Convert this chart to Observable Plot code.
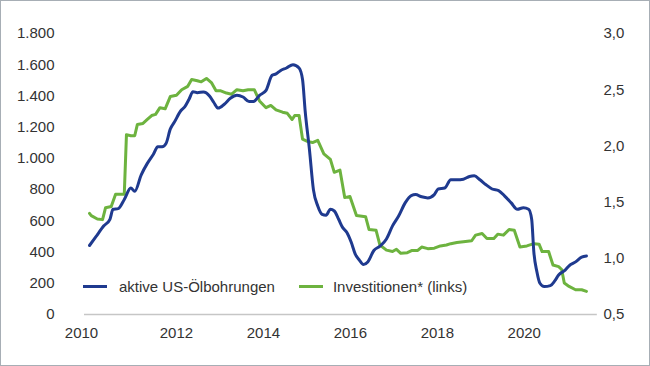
<!DOCTYPE html>
<html>
<head>
<meta charset="utf-8">
<script src="https://cdn.jsdelivr.net/npm/d3@7"></script>
<script src="https://cdn.jsdelivr.net/npm/@observablehq/plot@0.6"></script>
<style>
  html, body { margin: 0; padding: 0; background: #fff; }
  #wrap { position: relative; width: 650px; height: 366px; overflow: hidden; font-family: "Liberation Sans", Arial, sans-serif; }
  #border { position: absolute; left: 0; top: 0; width: 648px; height: 364px; border: 1px solid #a7aeb5; pointer-events: none; }
  #legend { position: absolute; left: 83px; top: 278px; font-size: 15px; color: #333; display: flex; align-items: center; white-space: nowrap; }
  .sw { display: inline-block; width: 24px; height: 3px; margin-right: 12px; }
  .item { display: flex; align-items: center; }
</style>
</head>
<body>
<div id="wrap">
  <div id="chart"></div>
  <div id="legend">
    <div class="item"><span class="sw" style="background:#1f3a8f"></span><span>aktive US-Ölbohrungen</span></div>
    <div class="item" style="margin-left:24px"><span class="sw" style="background:#6db33f;margin-right:10px"></span><span>Investitionen* (links)</span></div>
  </div>
  <div id="border"></div>
</div>
<script>
// Active US oil rigs (left axis)
const rigT = [2010.0,2010.14,2010.33,2010.47,2010.54,2010.66,2010.8,2010.95,2011.04,2011.19,2011.33,2011.47,2011.57,2011.67,2011.76,2011.86,2011.95,2012.1,2012.19,2012.29,2012.38,2012.48,2012.62,2012.76,2012.86,2012.96,2013.1,2013.24,2013.39,2013.53,2013.67,2013.77,2013.91,2014.06,2014.2,2014.29,2014.39,2014.53,2014.68,2014.82,2014.9,2014.96,2015.06,2015.15,2015.25,2015.35,2015.44,2015.54,2015.63,2015.73,2015.82,2015.92,2016.02,2016.11,2016.21,2016.3,2016.4,2016.54,2016.68,2016.83,2016.97,2017.11,2017.26,2017.4,2017.5,2017.64,2017.78,2017.93,2018.02,2018.17,2018.31,2018.45,2018.6,2018.74,2018.85,2018.98,2019.12,2019.26,2019.41,2019.55,2019.7,2019.84,2019.98,2020.1,2020.17,2020.22,2020.29,2020.36,2020.46,2020.6,2020.7,2020.79,2020.94,2021.03,2021.18,2021.32,2021.43];
const rigV = [442,495,568,610,674,678,737,810,789,895,968,1027,1074,1074,1095,1189,1231,1305,1330,1379,1427,1421,1425,1400,1358,1322,1347,1385,1404,1393,1364,1364,1404,1436,1532,1541,1562,1579,1600,1579,1505,1305,1053,800,695,642,636,674,663,610,558,526,463,389,347,320,337,410,438,484,568,631,715,762,768,754,747,768,804,810,863,863,867,884,888,863,831,804,794,758,715,674,684,674,610,400,274,200,179,185,215,253,284,312,337,368,375];

// Investment (right axis values)
const invT = [2010.0,2010.04,2010.18,2010.3,2010.37,2010.5,2010.6,2010.76,2010.8,2010.85,2010.95,2011.04,2011.1,2011.23,2011.33,2011.43,2011.52,2011.62,2011.74,2011.86,2012.0,2012.12,2012.26,2012.35,2012.48,2012.57,2012.69,2012.81,2012.91,2013.02,2013.15,2013.27,2013.39,2013.53,2013.65,2013.79,2013.91,2014.06,2014.17,2014.29,2014.44,2014.55,2014.66,2014.72,2014.82,2014.9,2015.01,2015.13,2015.25,2015.39,2015.54,2015.63,2015.76,2015.87,2015.99,2016.14,2016.35,2016.43,2016.59,2016.68,2016.83,2016.97,2017.06,2017.16,2017.31,2017.42,2017.55,2017.64,2017.78,2017.93,2018.07,2018.21,2018.31,2018.45,2018.6,2018.79,2018.88,2019.03,2019.14,2019.3,2019.39,2019.52,2019.65,2019.77,2019.9,2020.06,2020.22,2020.34,2020.41,2020.56,2020.66,2020.79,2020.86,2020.92,2021.03,2021.18,2021.32,2021.43];
const invV = [1.40,1.38,1.35,1.344,1.45,1.46,1.57,1.57,1.57,2.10,2.09,2.09,2.19,2.20,2.235,2.27,2.28,2.34,2.33,2.44,2.45,2.50,2.53,2.59,2.58,2.57,2.60,2.56,2.49,2.49,2.47,2.46,2.50,2.49,2.50,2.50,2.40,2.34,2.36,2.32,2.30,2.29,2.235,2.27,2.27,2.06,2.04,2.03,2.05,1.93,1.88,1.765,1.785,1.54,1.55,1.38,1.37,1.256,1.25,1.118,1.073,1.06,1.08,1.044,1.05,1.07,1.07,1.10,1.086,1.09,1.11,1.118,1.13,1.14,1.147,1.156,1.206,1.22,1.176,1.176,1.215,1.206,1.256,1.25,1.10,1.11,1.13,1.126,1.06,1.06,0.94,0.926,0.90,0.78,0.75,0.72,0.72,0.706];

const leftTicks = [0,200,400,600,800,1000,1200,1400,1600,1800];
const rightTicks = [0.5,1.0,1.5,2.0,2.5,3.0];
const yearTicks = [2010,2012,2014,2016,2018,2020];

// right axis mapping onto left scale: left = (right - 0.5) * 720
const toLeft = r => (r - 0.5) * 720;

const de = d3.formatLocale({decimal: ",", thousands: ".", grouping: [3], currency: ["", "€"]});
const fmtL = de.format(",.0f");
const fmtR = de.format(".1f");

const rigs = rigT.map((t, i) => ({t, v: rigV[i]}));
const inv = invT.map((t, i) => ({t, v: toLeft(invV[i])}));

const blue = "#1f3a8f";
const green = "#6db33f";

const chart = Plot.plot({
  width: 650,
  height: 366,
  marginLeft: 89,
  marginRight: 61,
  marginTop: 33,
  marginBottom: 52,
  x: {domain: [2010, 2021.5], axis: null},
  y: {domain: [0, 1800], axis: null},
  style: {fontFamily: "'Liberation Sans', Arial, sans-serif", fontSize: "15px", color: "#333", background: "transparent", overflow: "visible"},
  marks: [
    Plot.ruleY([0], {x1: 2009.885, x2: 2021.68, stroke: "#c6c6c6", strokeWidth: 1.5}),
    Plot.axisY({ticks: leftTicks, tickSize: 0, tickPadding: 35, tickFormat: fmtL, fill: "#333", label: null}),
    Plot.axisY({anchor: "right", ticks: rightTicks.map(toLeft), tickSize: 0, tickPadding: 14, tickFormat: d => fmtR(0.5 + d / 720), fill: "#333", label: null}),
    Plot.axisX({ticks: yearTicks.slice(0, 1), tickSize: 0, tickPadding: 13, tickFormat: d => String(d), dx: -8, fill: "#333", label: null}),
    Plot.axisX({ticks: yearTicks.slice(1), tickSize: 0, tickPadding: 13, tickFormat: d => String(d), fill: "#333", label: null}),
    Plot.line(inv, {x: "t", y: "v", stroke: green, strokeWidth: 3, strokeLinejoin: "round"}),
    Plot.line(rigs, {x: "t", y: "v", stroke: blue, strokeWidth: 3, strokeLinejoin: "round", curve: "monotone-x"})
  ]
});
document.getElementById("chart").appendChild(chart);
</script>
</body>
</html>
